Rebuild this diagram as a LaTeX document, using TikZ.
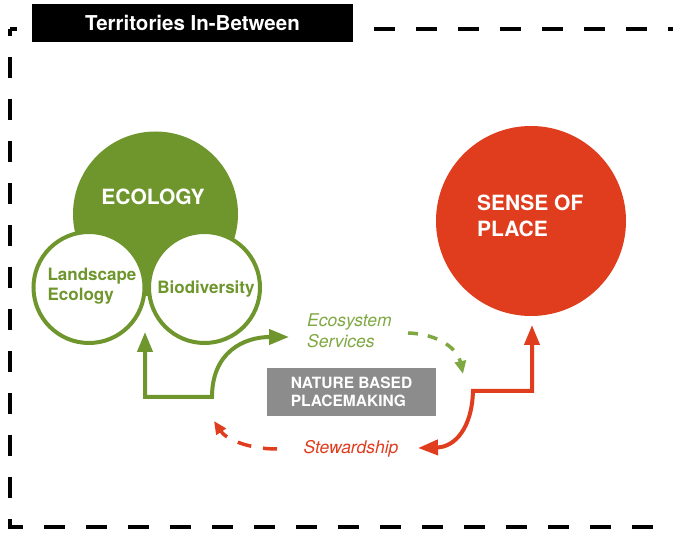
\documentclass[tikz,border=0pt]{standalone}
\usepackage{fontspec}
\setmainfont{TeX Gyre Heros}
\usetikzlibrary{arrows.meta}
\definecolor{ecogreen}{RGB}{110,150,45}
\definecolor{softgreen}{RGB}{128,168,66}
\definecolor{placered}{RGB}{224,60,30}
\definecolor{boxgray}{RGB}{140,140,140}
\tikzset{
  frameline/.style={line width=3.5pt, dash pattern=on 21pt off 21pt, dash phase=14pt},
  ring/.style={circle, draw=ecogreen, fill=white, line width=4pt, minimum size=111pt, inner sep=0pt},
  ringtext/.style={text=ecogreen, align=left, font=\bfseries\fontsize{17}{20}\selectfont},
  bigtext/.style={text=white, align=left, font=\bfseries\fontsize{21}{26}\selectfont},
  flowtext/.style={align=left, font=\itshape\fontsize{17.5}{21}\selectfont},
  bigtip/.tip={Triangle[length=20pt,width=15pt]},
  smalltip/.tip={Triangle[length=13pt,width=11pt]},
  solidflow/.style={line width=4pt, bigtip-bigtip},
  dashflow/.style={line width=3.5pt, -smalltip}
}
\begin{document}
\begin{tikzpicture}[x=1pt,y=-1pt]
\path[use as bounding box, fill=white] (0,0) rectangle (673,534);

\draw[frameline] (10,29) -- (673,29);
\draw[frameline] (10,29) -- (10,527) -- (673,527);
\node[fill=black, text=white, minimum width=321pt, minimum height=38pt, inner sep=0pt,
      font=\bfseries\fontsize{20.5}{24}\selectfont] (title) at (192.5,23) {Territories In-Between};

\node[circle, fill=ecogreen, minimum size=165pt, inner sep=0pt] (eco) at (155.5,214) {};
\node[ring] (land) at (89,287.5) {};
\node[ring] (bio) at (204.5,287.5) {};
\node[bigtext] (ecot) at (153,197) {ECOLOGY};
\node[ringtext] (landt) at (92,286) {Landscape\\Ecology};
\node[ringtext] (biot) at (206,289) {Biodiversity};

\node[circle, fill=placered, minimum size=190pt, inner sep=0pt] (place) at (531,221) {};
\node[bigtext, anchor=west, inner sep=0pt] (placet) at (477,216) {SENSE OF\\PLACE};

\node[fill=boxgray, text=white, minimum width=169pt, minimum height=48pt, inner sep=0pt, align=left,
      font=\bfseries\fontsize{15.5}{18}\selectfont] (nbp) at (351.5,392) {NATURE BASED\\PLACEMAKING};
\node[flowtext, text=softgreen, anchor=west, inner sep=0pt] (ess) at (307,331) {Ecosystem\\Services};
\node[flowtext, text=placered] (stew) at (351,449) {Stewardship};

\coordinate (g0) at (145,332);  \coordinate (g1) at (145,397);
\coordinate (g2) at (212,397);  \coordinate (g3) at (289,337);
\coordinate (r0) at (532,325);  \coordinate (r1) at (532,391);
\coordinate (r2) at (473,391);  \coordinate (r3) at (418,448);
\coordinate (gd0) at (408,333); \coordinate (gd1) at (463,374);
\coordinate (rd0) at (277,449); \coordinate (rd1) at (214,421);

\draw[solidflow, ecogreen] (g0) -- (g1) -- (g2) .. controls (212,352) and (244,337) .. (g3);
\draw[solidflow, placered] (r0) -- (r1) -- (r2) .. controls (472,428) and (455,447) .. (r3);
\draw[dashflow, softgreen, dash pattern=on 10pt off 10pt] (gd0) .. controls (440,334) and (458,350) .. (gd1);
\draw[dashflow, placered, dash pattern=on 14pt off 12pt] (rd0) .. controls (248,449) and (226,439) .. (rd1);
\end{tikzpicture}
\end{document}
